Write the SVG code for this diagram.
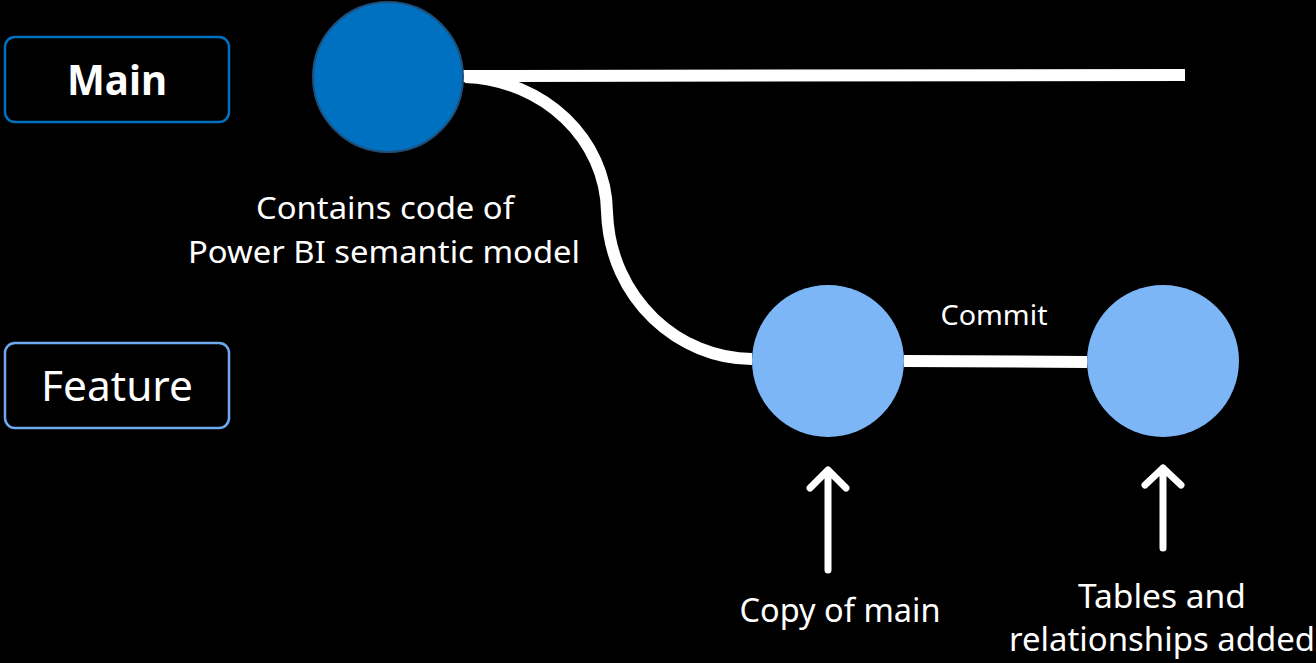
<svg xmlns="http://www.w3.org/2000/svg" width="1316" height="663" viewBox="0 0 1316 663">
  <style>
    .lbl { font-family: "Noto Sans", "Open Sans", sans-serif; fill: #ffffff; text-anchor: middle; }
    .box { fill: #000000; stroke-width: 2.5; }
    .branch { fill: none; stroke: #ffffff; stroke-width: 12; }
    .pointer { fill: none; stroke: #ffffff; stroke-width: 7; stroke-linecap: round; stroke-linejoin: round; }
    .commit-main { fill: #0070C0; stroke: #1F4E79; stroke-width: 2; }
    .commit-feature { fill: #7DB6F7; }
  </style>
  <rect width="1316" height="663" fill="#000000"/>

  <!-- branch lines -->
  <g id="connectors">
    <path class="branch" d="M 463 76 L 1185 75"/>
    <path class="branch" d="M 465 77 C 545 80 606 140 607 212 C 610 300 680 359 752 359"/>
    <path class="branch" d="M 904 361 L 1087 362"/>
  </g>

  <!-- branch labels -->
  <g id="label-main">
    <rect class="box" x="5" y="37" width="224" height="85" rx="10" stroke="#0070C0"/>
    <text class="lbl" x="117" y="95" font-size="41" font-weight="bold" textLength="100" lengthAdjust="spacingAndGlyphs">Main</text>
  </g>
  <g id="label-feature">
    <rect class="box" x="5" y="343" width="224" height="85" rx="10" stroke="#6FAAEE"/>
    <text class="lbl" x="117" y="401" font-size="41" textLength="152" lengthAdjust="spacingAndGlyphs">Feature</text>
  </g>

  <!-- commits -->
  <g id="commit-main">
    <circle class="commit-main" cx="388" cy="77" r="75"/>
  </g>
  <g id="commit-copy">
    <circle class="commit-feature" cx="828" cy="361" r="76"/>
  </g>
  <g id="commit-tables">
    <circle class="commit-feature" cx="1163" cy="361" r="76"/>
  </g>

  <!-- annotations -->
  <g id="note-main">
    <text class="lbl" x="385" y="219" font-size="31" textLength="258" lengthAdjust="spacingAndGlyphs">Contains code of</text>
    <text class="lbl" x="384" y="263" font-size="31" textLength="392" lengthAdjust="spacingAndGlyphs">Power BI semantic model</text>
  </g>
  <g id="note-commit">
    <text class="lbl" x="994" y="325" font-size="27" textLength="107" lengthAdjust="spacingAndGlyphs">Commit</text>
  </g>
  <g id="pointer-copy">
    <path class="pointer" d="M 828 570 L 828 470 M 810 488 L 828 470 L 846 488"/>
    <text class="lbl" x="840" y="622" font-size="32" textLength="201" lengthAdjust="spacingAndGlyphs">Copy of main</text>
  </g>
  <g id="pointer-tables">
    <path class="pointer" d="M 1163 548 L 1163 468 M 1145 485 L 1163 468 L 1181 485"/>
    <text class="lbl" x="1162" y="608" font-size="32" textLength="168" lengthAdjust="spacingAndGlyphs">Tables and</text>
    <text class="lbl" x="1162" y="651" font-size="32" textLength="306" lengthAdjust="spacingAndGlyphs">relationships added</text>
  </g>
</svg>
